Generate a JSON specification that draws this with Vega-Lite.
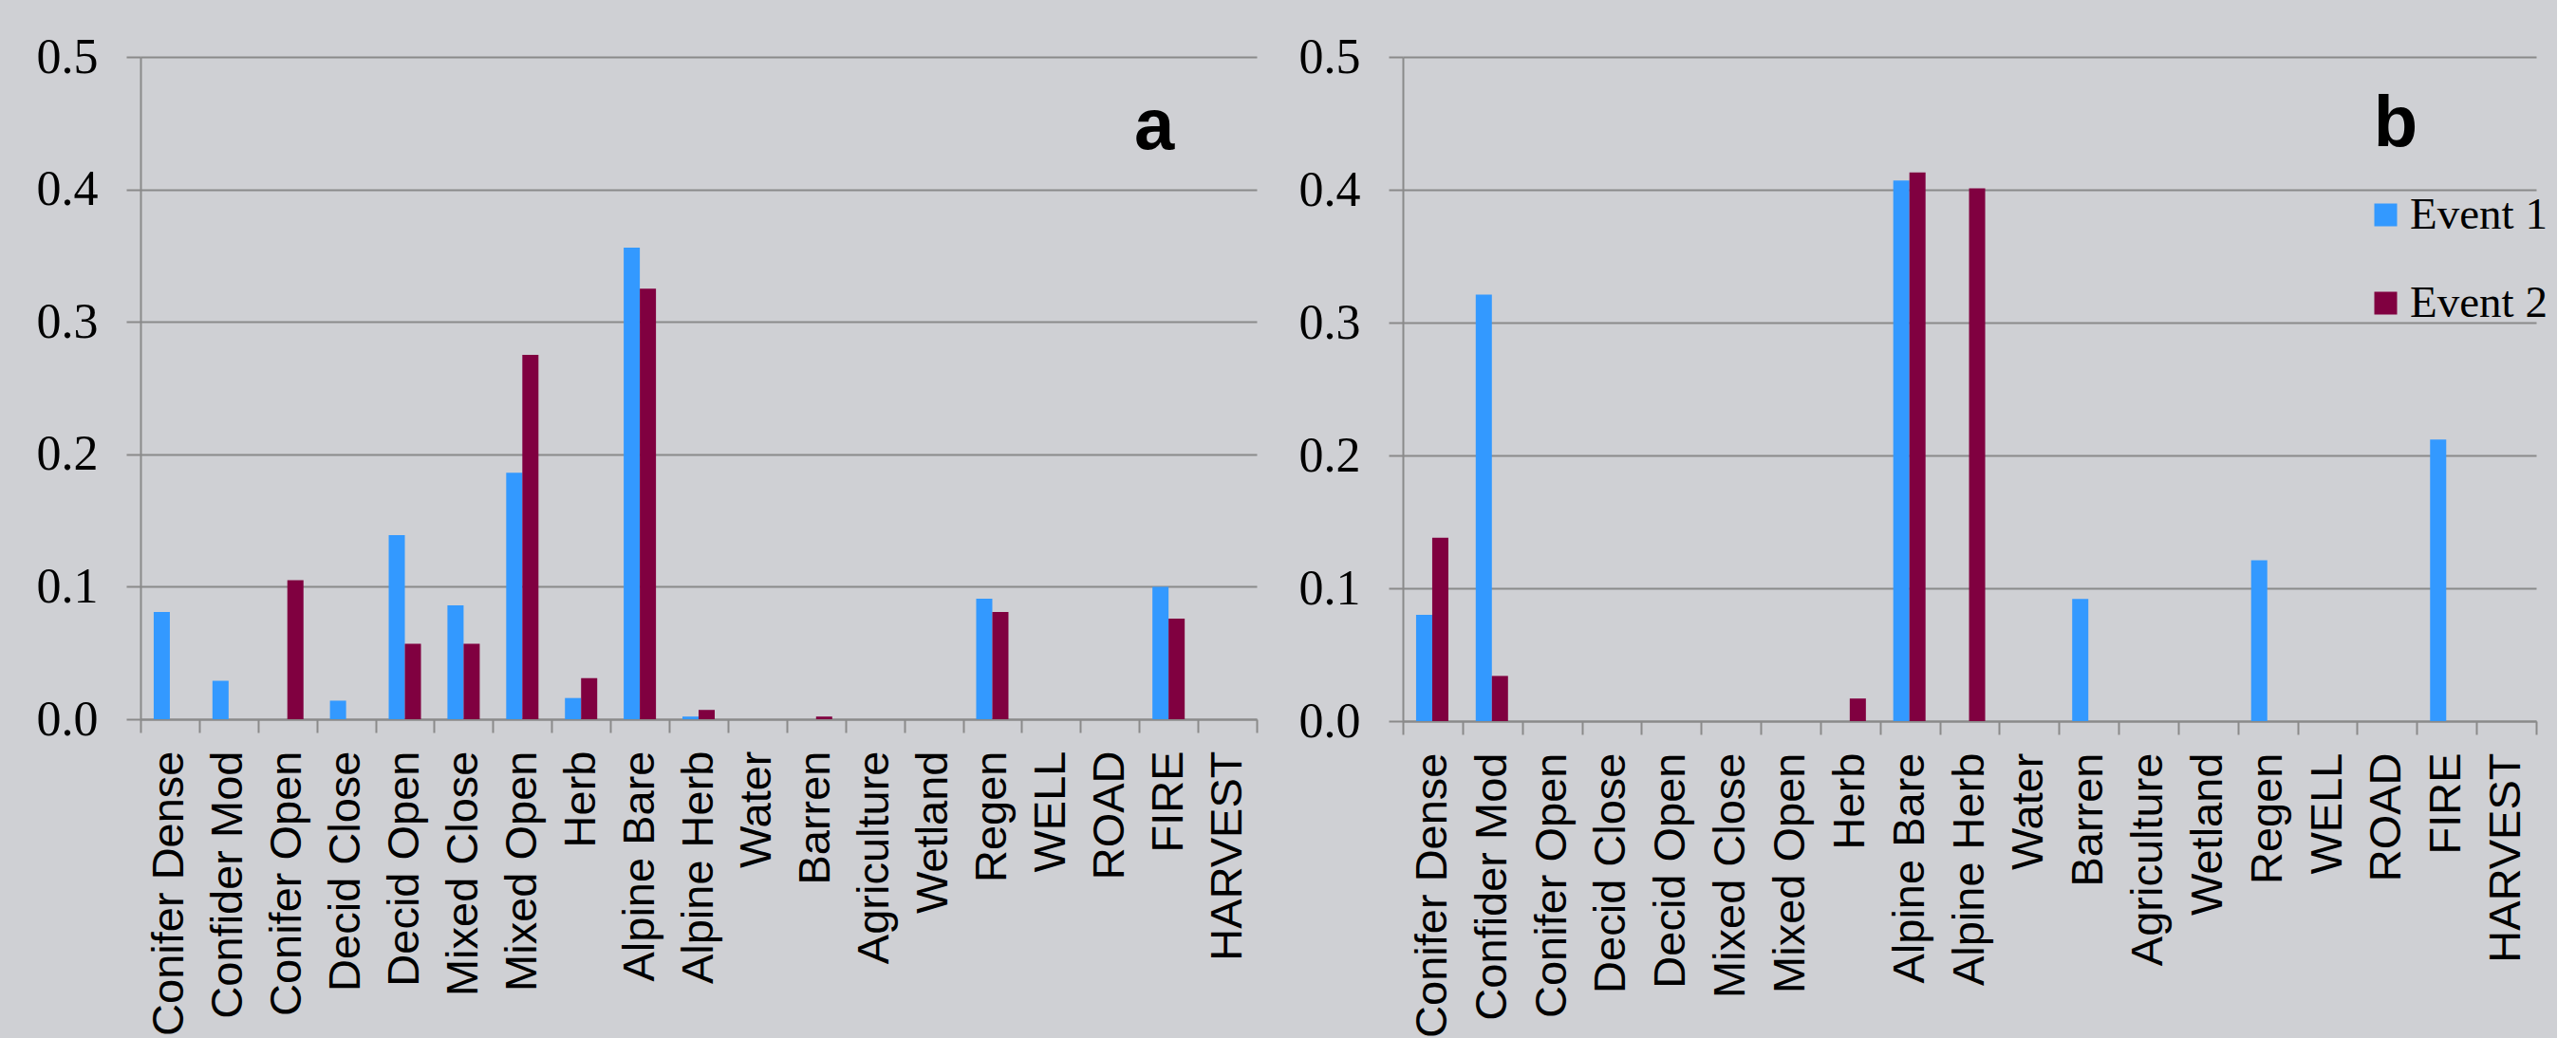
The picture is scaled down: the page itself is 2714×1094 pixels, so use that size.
{
  "$schema": "https://vega.github.io/schema/vega-lite/v6.json",
  "background": "#cfd0d4",
  "padding": {"left": 38, "top": 34, "right": 10, "bottom": 0},
  "spacing": 43,
  "config": {
    "view": {"stroke": null},
    "axisX": {
      "title": null, "labelAngle": -90, "labelFont": "Liberation Sans", "labelFontSize": 47,
      "labelColor": "#000000", "labelPadding": 19, "tickSize": 14, "tickColor": "#8a8a8a",
      "tickWidth": 2, "domainColor": "#8a8a8a", "domainWidth": 2, "tickBand": "extent", "grid": false,
      "labelOverlap": false, "labelLimit": 0
    },
    "axisY": {
      "title": null, "labelFont": "Liberation Serif", "labelFontSize": 52, "labelColor": "#000000",
      "labelPadding": 30, "tickSize": 15, "tickColor": "#8a8a8a", "tickWidth": 2,
      "domainColor": "#8a8a8a", "domainWidth": 2, "gridColor": "#8a8a8a", "gridWidth": 2, "grid": true,
      "labelLimit": 0
    }
  },
  "datasets": {
    "bars": [
      {"panel": "a", "cover": "Conifer Dense", "event": "Event 1", "value": 0.081},
      {"panel": "a", "cover": "Conifer Dense", "event": "Event 2", "value": 0},
      {"panel": "a", "cover": "Confider Mod", "event": "Event 1", "value": 0.029},
      {"panel": "a", "cover": "Confider Mod", "event": "Event 2", "value": 0},
      {"panel": "a", "cover": "Conifer Open", "event": "Event 1", "value": 0},
      {"panel": "a", "cover": "Conifer Open", "event": "Event 2", "value": 0.105},
      {"panel": "a", "cover": "Decid Close", "event": "Event 1", "value": 0.014},
      {"panel": "a", "cover": "Decid Close", "event": "Event 2", "value": 0},
      {"panel": "a", "cover": "Decid Open", "event": "Event 1", "value": 0.139},
      {"panel": "a", "cover": "Decid Open", "event": "Event 2", "value": 0.057},
      {"panel": "a", "cover": "Mixed Close", "event": "Event 1", "value": 0.086},
      {"panel": "a", "cover": "Mixed Close", "event": "Event 2", "value": 0.057},
      {"panel": "a", "cover": "Mixed Open", "event": "Event 1", "value": 0.186},
      {"panel": "a", "cover": "Mixed Open", "event": "Event 2", "value": 0.275},
      {"panel": "a", "cover": "Herb", "event": "Event 1", "value": 0.016},
      {"panel": "a", "cover": "Herb", "event": "Event 2", "value": 0.031},
      {"panel": "a", "cover": "Alpine Bare", "event": "Event 1", "value": 0.356},
      {"panel": "a", "cover": "Alpine Bare", "event": "Event 2", "value": 0.325},
      {"panel": "a", "cover": "Alpine Herb", "event": "Event 1", "value": 0.002},
      {"panel": "a", "cover": "Alpine Herb", "event": "Event 2", "value": 0.007},
      {"panel": "a", "cover": "Barren", "event": "Event 1", "value": 0},
      {"panel": "a", "cover": "Barren", "event": "Event 2", "value": 0.002},
      {"panel": "a", "cover": "Regen", "event": "Event 1", "value": 0.091},
      {"panel": "a", "cover": "Regen", "event": "Event 2", "value": 0.081},
      {"panel": "a", "cover": "FIRE", "event": "Event 1", "value": 0.100},
      {"panel": "a", "cover": "FIRE", "event": "Event 2", "value": 0.076},
      {"panel": "b", "cover": "Conifer Dense", "event": "Event 1", "value": 0.080},
      {"panel": "b", "cover": "Conifer Dense", "event": "Event 2", "value": 0.138},
      {"panel": "b", "cover": "Confider Mod", "event": "Event 1", "value": 0.321},
      {"panel": "b", "cover": "Confider Mod", "event": "Event 2", "value": 0.034},
      {"panel": "b", "cover": "Herb", "event": "Event 1", "value": 0},
      {"panel": "b", "cover": "Herb", "event": "Event 2", "value": 0.017},
      {"panel": "b", "cover": "Alpine Bare", "event": "Event 1", "value": 0.407},
      {"panel": "b", "cover": "Alpine Bare", "event": "Event 2", "value": 0.413},
      {"panel": "b", "cover": "Alpine Herb", "event": "Event 1", "value": 0},
      {"panel": "b", "cover": "Alpine Herb", "event": "Event 2", "value": 0.401},
      {"panel": "b", "cover": "Barren", "event": "Event 1", "value": 0.092},
      {"panel": "b", "cover": "Barren", "event": "Event 2", "value": 0},
      {"panel": "b", "cover": "Regen", "event": "Event 1", "value": 0.121},
      {"panel": "b", "cover": "Regen", "event": "Event 2", "value": 0},
      {"panel": "b", "cover": "FIRE", "event": "Event 1", "value": 0.212},
      {"panel": "b", "cover": "FIRE", "event": "Event 2", "value": 0}
    ],
    "tags": [
      {"panel": "a", "cover": "FIRE", "value": 0.447, "tag": "a"},
      {"panel": "b", "cover": "ROAD", "value": 0.449, "tag": "b"}
    ]
  },
  "resolve": {"legend": {"color": "independent"}},
  "hconcat": [
    {
      "width": 1176, "height": 698,
      "layer": [
        {
          "data": {"name": "bars"},
          "transform": [{"filter": "datum.panel === 'a'"}],
          "mark": {"type": "bar"},
          "encoding": {
            "x": {"field": "cover", "type": "nominal", "sort": null,
              "scale": {"domain": ["Conifer Dense", "Confider Mod", "Conifer Open", "Decid Close", "Decid Open", "Mixed Close", "Mixed Open", "Herb", "Alpine Bare", "Alpine Herb", "Water", "Barren", "Agriculture", "Wetland", "Regen", "WELL", "ROAD", "FIRE", "HARVEST"], "paddingInner": 0, "paddingOuter": 0}},
            "xOffset": {"field": "event", "type": "nominal", "scale": {"paddingInner": 0, "paddingOuter": 0.82}},
            "y": {"field": "value", "type": "quantitative", "scale": {"domain": [0, 0.5], "nice": false},
              "axis": {"values": [0, 0.1, 0.2, 0.3, 0.4, 0.5], "format": ".1f"}},
            "color": {"field": "event", "type": "nominal", "scale": {"domain": ["Event 1", "Event 2"], "range": ["#3399FF", "#800040"]}, "legend": null}
          }
        },
        {
          "data": {"name": "tags"},
          "transform": [{"filter": "datum.panel === 'a'"}],
          "mark": {"type": "text", "font": "Liberation Sans", "fontWeight": "bold", "fontSize": 76, "baseline": "middle", "align": "center", "dx": -15, "color": "#000000"},
          "encoding": {
            "x": {"field": "cover", "type": "nominal"},
            "y": {"field": "value", "type": "quantitative"},
            "text": {"field": "tag"}
          }
        }
      ]
    },
    {
      "width": 1194, "height": 700,
      "layer": [
        {
          "data": {"name": "bars"},
          "transform": [{"filter": "datum.panel === 'b'"}],
          "mark": {"type": "bar"},
          "encoding": {
            "x": {"field": "cover", "type": "nominal", "sort": null,
              "scale": {"domain": ["Conifer Dense", "Confider Mod", "Conifer Open", "Decid Close", "Decid Open", "Mixed Close", "Mixed Open", "Herb", "Alpine Bare", "Alpine Herb", "Water", "Barren", "Agriculture", "Wetland", "Regen", "WELL", "ROAD", "FIRE", "HARVEST"], "paddingInner": 0, "paddingOuter": 0}},
            "xOffset": {"field": "event", "type": "nominal", "scale": {"paddingInner": 0, "paddingOuter": 0.82}},
            "y": {"field": "value", "type": "quantitative", "scale": {"domain": [0, 0.5], "nice": false},
              "axis": {"values": [0, 0.1, 0.2, 0.3, 0.4, 0.5], "format": ".1f"}},
            "color": {"field": "event", "type": "nominal", "scale": {"domain": ["Event 1", "Event 2"], "range": ["#3399FF", "#800040"]},
              "legend": {"title": null, "orient": "none", "legendX": 1012, "legendY": 143, "padding": 0,
                "symbolType": "square", "symbolSize": 576, "symbolOpacity": 1, "symbolStrokeWidth": 0,
                "labelFont": "Liberation Serif", "labelFontSize": 47, "labelColor": "#000000",
                "labelOffset": 2, "rowPadding": 45}}
          }
        },
        {
          "data": {"name": "tags"},
          "transform": [{"filter": "datum.panel === 'b'"}],
          "mark": {"type": "text", "font": "Liberation Sans", "fontWeight": "bold", "fontSize": 76, "baseline": "middle", "align": "center", "dx": 9, "color": "#000000"},
          "encoding": {
            "x": {"field": "cover", "type": "nominal"},
            "y": {"field": "value", "type": "quantitative"},
            "text": {"field": "tag"}
          }
        }
      ]
    }
  ]
}
